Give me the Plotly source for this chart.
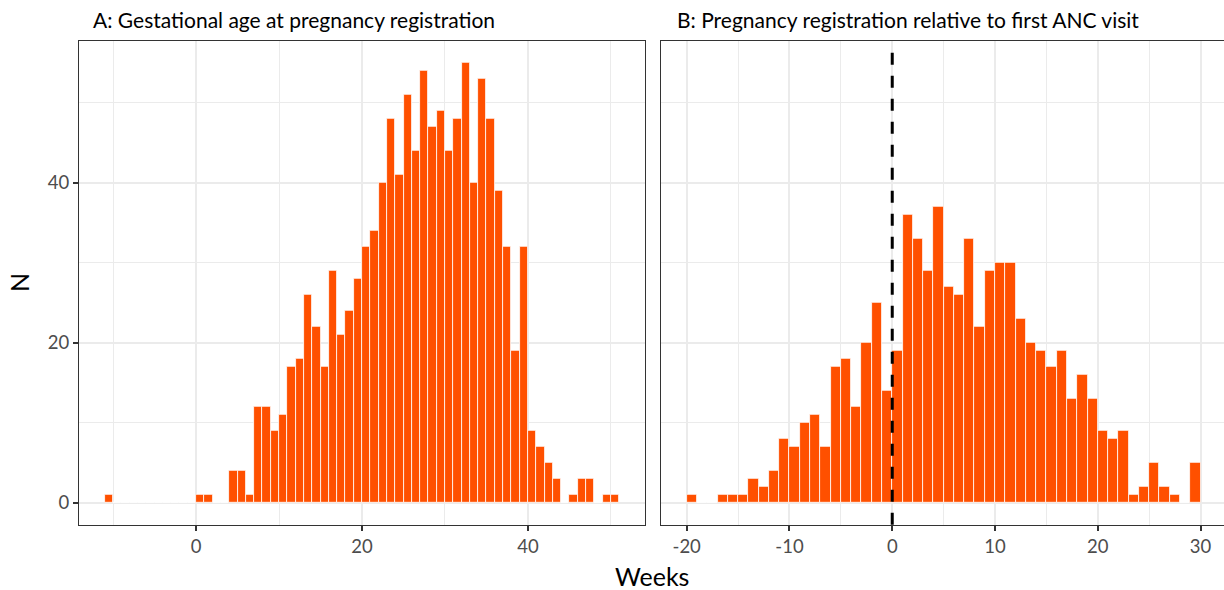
import plotly.graph_objects as go

# ---------------- data ----------------
# Panel A: gestational age at registration (weeks), lower edge of each 1-week bin
bins_a = [-11, -10, -9, -8, -7, -6, -5, -4, -3, -2, -1, 0, 1, 2, 3, 4, 5, 6, 7, 8,
          9, 10, 11, 12, 13, 14, 15, 16, 17, 18, 19, 20, 21, 22, 23, 24, 25, 26, 27, 28,
          29, 30, 31, 32, 33, 34, 35, 36, 37, 38, 39, 40, 41, 42, 43, 44, 45, 46, 47, 48,
          49, 50]
counts_a = [1, 0, 0, 0, 0, 0, 0, 0, 0, 0, 0, 1, 1, 0, 0, 4, 4, 1, 12, 12,
            9, 11, 17, 18, 26, 22, 17, 29, 21, 24, 28, 32, 34, 40, 48, 41, 51, 44, 54, 47,
            49, 44, 48, 55, 40, 53, 48, 39, 32, 19, 32, 9, 7, 5, 3, 0, 1, 3, 3, 0,
            1, 1]

# Panel B: registration relative to first ANC visit (weeks)
bins_b = [-20, -19, -18, -17, -16, -15, -14, -13, -12, -11, -10, -9, -8, -7, -6, -5,
          -4, -3, -2, -1, 0, 1, 2, 3, 4, 5, 6, 7, 8, 9, 10, 11, 12, 13, 14, 15, 16, 17,
          18, 19, 20, 21, 22, 23, 24, 25, 26, 27, 28, 29]
counts_b = [1, 0, 0, 1, 1, 1, 3, 2, 4, 8, 7, 10, 11, 7, 17, 18,
            12, 20, 25, 14, 19, 36, 33, 29, 37, 27, 26, 33, 22, 29, 30, 30, 23, 20, 19, 17, 19, 13,
            16, 13, 9, 8, 9, 1, 2, 5, 2, 1, 0, 5]

title_a = "A: Gestational age at pregnancy registration"
title_b = "B: Pregnancy registration relative to first ANC visit"
x_title = "Weeks"
y_title = "N"
ticks_a = [0, 20, 40]
ticklabels_a = ["0", "20", "40"]
ticks_b = [-20, -10, 0, 10, 20, 30]
ticklabels_b = ["-20", "-10", "0", "10", "20", "30"]
ticks_y = [0, 20, 40]
ticklabels_y = ["0", "20", "40"]

# ---------------- figure ----------------
W, H = 1224, 590
BAR = "#FF5000"
GRID = "#EBEBEB"
BORDER = "#333333"
FONT = "Lato"

fig = go.Figure()
fig.add_trace(go.Bar(x=[b + 0.5 for b in bins_a], y=counts_a, width=1,
                     marker=dict(color=BAR, line=dict(color="white", width=0.8)),
                     xaxis="x", yaxis="y", showlegend=False))
fig.add_trace(go.Bar(x=[b + 0.5 for b in bins_b], y=counts_b, width=1,
                     marker=dict(color=BAR, line=dict(color="white", width=0.8)),
                     xaxis="x2", yaxis="y2", showlegend=False))

yr = [-2.75, 57.75]
ydom = [(H - 524.7) / H, 1 - 40.7 / H]

common_x = dict(showgrid=True, gridcolor=GRID, gridwidth=2, zeroline=False,
                showline=True, linecolor=BORDER, linewidth=1.3, mirror=True,
                ticks="outside", ticklen=5, tickwidth=1.6, tickcolor=BORDER,
                tickfont=dict(family=FONT, size=18.5, color="#4D4D4D"))

fig.update_layout(
    width=W, height=H,
    margin=dict(l=0, r=0, t=0, b=0),
    paper_bgcolor="white", plot_bgcolor="white",
    bargap=0,
    xaxis=dict(domain=[79 / W, 645 / W], range=[-14.1, 54.1],
               tickvals=ticks_a, ticktext=ticklabels_a,
               minor=dict(dtick=10, tick0=-10, showgrid=True, gridcolor=GRID, gridwidth=1, ticks=""),
               anchor="y", **common_x),
    xaxis2=dict(domain=[661 / W, 1.0], range=[-22.5, 32.28],
                tickvals=ticks_b, ticktext=ticklabels_b,
                minor=dict(dtick=5, tick0=-15, showgrid=True, gridcolor=GRID, gridwidth=1, ticks=""),
                anchor="y2", **common_x),
    yaxis=dict(domain=ydom, range=yr, tickvals=ticks_y, ticktext=ticklabels_y,
               showgrid=True, gridcolor=GRID, gridwidth=2, zeroline=False,
               minor=dict(dtick=10, tick0=10, showgrid=True, gridcolor=GRID, gridwidth=1, ticks=""),
               showline=True, linecolor=BORDER, linewidth=1.3, mirror=True,
               ticks="outside", ticklen=5, tickwidth=1.6, tickcolor=BORDER,
               tickfont=dict(family=FONT, size=18.5, color="#4D4D4D"), anchor="x"),
    yaxis2=dict(domain=ydom, range=yr, tickvals=ticks_y, showticklabels=False,
                showgrid=True, gridcolor=GRID, gridwidth=2, zeroline=False,
                minor=dict(dtick=10, tick0=10, showgrid=True, gridcolor=GRID, gridwidth=1, ticks=""),
                showline=True, linecolor=BORDER, linewidth=1.3, mirror=False,
                ticks="", anchor="x2"),
)

# dashed reference line at 0 in panel B
fig.add_shape(type="line", xref="x2", yref="y2 domain", x0=0, x1=0, y0=0, y1=0.995,
              line=dict(color="black", width=3, dash="12px,11px"), layer="above")

# titles
fig.add_annotation(text=title_a, xref="paper", yref="paper", x=91 / W, y=1 - 19 / H,
                   xanchor="left", yanchor="middle", showarrow=False,
                   font=dict(family=FONT, size=21, color="black"))
fig.add_annotation(text=title_b, xref="paper", yref="paper", x=675 / W, y=1 - 19 / H,
                   xanchor="left", yanchor="middle", showarrow=False,
                   font=dict(family=FONT, size=21, color="black"))
fig.add_annotation(text=x_title, xref="paper", yref="paper", x=652 / W, y=1 - 576 / H,
                   xanchor="center", yanchor="middle", showarrow=False,
                   font=dict(family=FONT, size=25, color="black"))
fig.add_annotation(text=y_title, xref="paper", yref="paper", x=19 / W, y=1 - 283 / H,
                   xanchor="center", yanchor="middle", showarrow=False, textangle=-90,
                   font=dict(family=FONT, size=25, color="black"))

fig.write_html("out.html")
